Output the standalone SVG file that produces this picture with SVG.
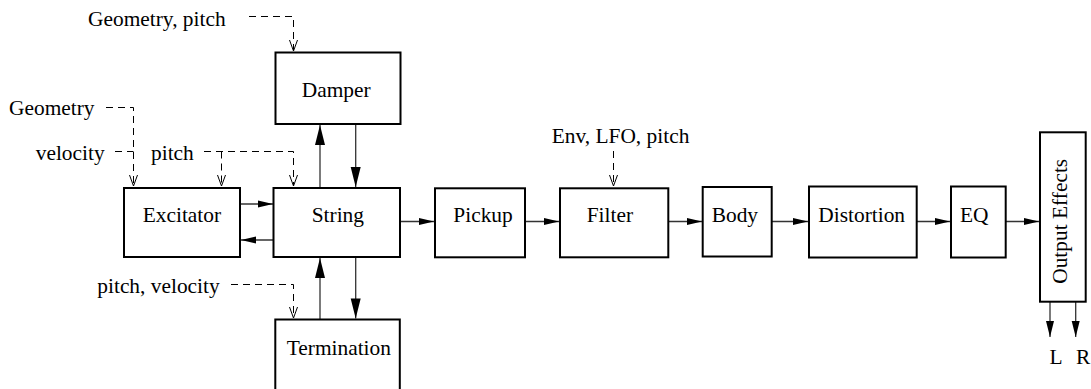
<svg xmlns="http://www.w3.org/2000/svg" width="1091" height="389" viewBox="0 0 1091 389">
<style>
  .box { fill: #fff; stroke: #000; stroke-width: 2; }
  .t { font-family: "Liberation Serif", "Times New Roman", serif; font-size: 21.4px; fill: #000; }
  .c { fill: none; stroke: #333; stroke-width: 1.3; }
  .d { fill: none; stroke: #000; stroke-width: 1; stroke-dasharray: 7 5; }
</style>
<defs>
  <marker id="ah" markerUnits="userSpaceOnUse" markerWidth="16" markerHeight="8" refX="15" refY="3.5" orient="auto" overflow="visible">
    <path d="M0,0 L15,3.5 L0,7 Z" fill="#000"/>
  </marker>
  <marker id="av" markerUnits="userSpaceOnUse" markerWidth="21" markerHeight="11" refX="20" refY="5" orient="auto" overflow="visible">
    <path d="M0,0 L20,5 L0,10 Z" fill="#000"/>
  </marker>
  <marker id="alr" markerUnits="userSpaceOnUse" markerWidth="17" markerHeight="9" refX="16" refY="4" orient="auto" overflow="visible">
    <path d="M0,0 L16,4 L0,8 Z" fill="#000"/>
  </marker>
  <marker id="ao" markerUnits="userSpaceOnUse" markerWidth="12" markerHeight="10" refX="11" refY="4" orient="auto" overflow="visible">
    <path d="M0,0 L11,4 L0,8" fill="none" stroke="#000" stroke-width="1" stroke-dasharray="none"/>
  </marker>
</defs>

<g id="connectors">
  <!-- control (dashed) -->
  <path class="d" d="M249,16.5 H293.5 V51" marker-end="url(#ao)"/>
  <path class="d" d="M106,107.5 H133.5 V186" marker-end="url(#ao)"/>
  <path class="d" d="M115,151.5 H133.5"/>
  <path class="d" d="M204,151.5 H293.5 V186" marker-end="url(#ao)"/>
  <path class="d" d="M221.5,151.5 V186" marker-end="url(#ao)"/>
  <path class="d" d="M231,284.5 H293.5 V318" marker-end="url(#ao)"/>
  <path class="d" d="M613.5,151 V186" marker-end="url(#ao)"/>
  <!-- signal -->
  <path class="c" d="M240,204 H273" marker-end="url(#ah)"/>
  <path class="c" d="M273.5,240 H241" marker-end="url(#ah)"/>
  <path class="c" d="M320,188 V125" marker-end="url(#av)"/>
  <path class="c" d="M355.7,124 V187" marker-end="url(#av)"/>
  <path class="c" d="M320,319.5 V258" marker-end="url(#av)"/>
  <path class="c" d="M355.7,257 V318.5" marker-end="url(#av)"/>
  <path class="c" d="M400,221.5 H434" marker-end="url(#ah)"/>
  <path class="c" d="M525,221.5 H559" marker-end="url(#ah)"/>
  <path class="c" d="M668.3,221.5 H702" marker-end="url(#ah)"/>
  <path class="c" d="M771.7,221.5 H808" marker-end="url(#ah)"/>
  <path class="c" d="M916.7,221.5 H950" marker-end="url(#ah)"/>
  <path class="c" d="M1005.7,221.5 H1039" marker-end="url(#ah)"/>
  <path class="c" d="M1050,301.7 V337" marker-end="url(#alr)"/>
  <path class="c" d="M1075.7,301.7 V337" marker-end="url(#alr)"/>
</g>

<g id="labels">
  <text class="t" x="88" y="25.5">Geometry, pitch</text>
  <text class="t" x="9" y="115">Geometry</text>
  <text class="t" x="35.7" y="160">velocity</text>
  <text class="t" x="151" y="160">pitch</text>
  <text class="t" x="97.3" y="293.3">pitch, velocity</text>
  <text class="t" x="551.7" y="142.7">Env, LFO, pitch</text>
  <text class="t" x="1049.5" y="364">L</text>
  <text class="t" x="1076" y="364">R</text>
</g>

<g id="damper">
  <rect class="box" x="275.5" y="52.5" width="125" height="71.5"/>
  <text class="t" x="301.7" y="96.7">Damper</text>
</g>
<g id="excitator">
  <rect class="box" x="124" y="188" width="116" height="69"/>
  <text class="t" x="142.7" y="222.3">Excitator</text>
</g>
<g id="string">
  <rect class="box" x="273.5" y="188" width="126.5" height="69"/>
  <text class="t" x="311.7" y="222.3">String</text>
</g>
<g id="termination">
  <rect class="box" x="275.3" y="319.5" width="124.5" height="80"/>
  <text class="t" x="286.7" y="355">Termination</text>
</g>
<g id="pickup">
  <rect class="box" x="435" y="188.3" width="90" height="69"/>
  <text class="t" x="453.3" y="221.7">Pickup</text>
</g>
<g id="filter">
  <rect class="box" x="560" y="188.3" width="108.3" height="69"/>
  <text class="t" x="586.7" y="221.7">Filter</text>
</g>
<g id="body">
  <rect class="box" x="702.7" y="187" width="69" height="69.5"/>
  <text class="t" x="711.7" y="221.7">Body</text>
</g>
<g id="distortion">
  <rect class="box" x="809" y="186.5" width="107.7" height="71"/>
  <text class="t" x="818.3" y="221.7">Distortion</text>
</g>
<g id="eq">
  <rect class="box" x="951" y="186.5" width="54.7" height="71"/>
  <text class="t" x="960" y="221.7">EQ</text>
</g>
<g id="output-effects">
  <rect class="box" x="1040" y="132.3" width="45.7" height="169.4"/>
  <text class="t" text-anchor="middle" transform="translate(1067,221.3) rotate(-90)">Output Effects</text>
</g>
</svg>
